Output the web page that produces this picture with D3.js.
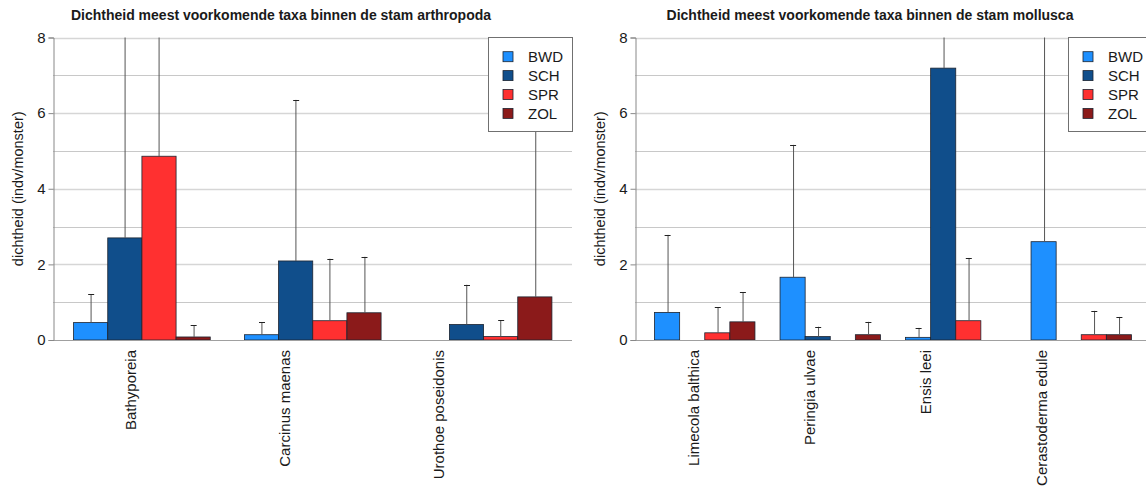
<!DOCTYPE html>
<html>
<head>
<meta charset="utf-8">
<script src="https://cdn.jsdelivr.net/npm/d3@7"></script>
<style>
  body { margin: 0; background: #fff; }
  text { font-family: "Liberation Sans", Arial, sans-serif; fill: #1a1a1a; }
</style>
</head>
<body>
<svg id="chart" width="1146" height="487"></svg>
<script>
// sampling stations, same order in every array below
const stations = ['BWD', 'SCH', 'SPR', 'ZOL'];

const arthropodaTaxa = ['Bathyporeia', 'Carcinus maenas', 'Urothoe poseidonis'];
// mean density per taxon, one value per station
const arthropodaMean = [
  [0.46, 2.70, 4.86, 0.08],
  [0.14, 2.09, 0.51, 0.72],
  [0.00, 0.41, 0.09, 1.14]
];
// standard deviation (upper whisker only)
const arthropodaSd = [
  [0.75, 7.50, 5.50, 0.31],
  [0.33, 4.26, 1.64, 1.48],
  [0.00, 1.05, 0.43, 6.10]
];

const molluscaTaxa = ['Limecola balthica', 'Peringia ulvae', 'Ensis leei', 'Cerastoderma edule'];
const molluscaMean = [
  [0.73, 0.00, 0.19, 0.48],
  [1.66, 0.09, 0.00, 0.14],
  [0.07, 7.19, 0.51, 0.00],
  [2.60, 0.00, 0.14, 0.14]
];
const molluscaSd = [
  [2.05, 0.00, 0.68, 0.79],
  [3.50, 0.26, 0.00, 0.34],
  [0.25, 3.20, 1.66, 0.00],
  [6.40, 0.00, 0.63, 0.47]
];

const yTicks = [0, 2, 4, 6, 8];
const yGrid = [1, 2, 3, 4, 5, 6, 7, 8];

const colors = d3.scaleOrdinal().domain(stations).range(['#1e90ff', '#104e8b', '#ff3030', '#8b1a1a']);

const svg = d3.select('#chart');

function drawPanel(opts) {
  const { id, title, titleX, taxa, mean, sd, axisX, gridRight, barRange, labelSpan, legendX, legendW } = opts;
  const top = 37.5, bottom = 340;

  const y = d3.scaleLinear().domain([0, 8]).range([bottom, top]);
  const x = d3.scaleBand().domain(taxa).range(barRange).paddingInner(0.2).paddingOuter(0.1);
  const xs = d3.scaleBand().domain(stations).range([0, x.bandwidth()]);
  // category labels sit on their own (narrower) spacing in the original
  const xl = d3.scaleBand().domain(taxa).range([axisX, axisX + labelSpan]);

  const g = svg.append('g');

  svg.append('clipPath').attr('id', 'clip-' + id)
    .append('rect').attr('x', axisX).attr('y', top).attr('width', gridRight - axisX).attr('height', bottom - top + 1);

  svg.append('text')
    .attr('x', titleX).attr('y', 20)
    .attr('text-anchor', 'middle')
    .style('font-size', '14px').style('font-weight', 'bold')
    .text(title);

  // gridlines
  g.selectAll('.grid')
    .data(yGrid)
    .enter()
      .append('line')
      .attr('x1', axisX).attr('x2', gridRight)
      .attr('y1', d => Math.round(y(d)) + 0.5).attr('y2', d => Math.round(y(d)) + 0.5)
      .style('stroke', d => d % 2 === 0 ? '#d6d6d6' : '#c8c8c8')
      .style('stroke-width', d => d % 2 === 0 ? 1.5 : 1);

  // plot area, clipped at the top of the y scale
  const plot = g.append('g').attr('clip-path', `url(#clip-${id})`);

  const rows = taxa.map((t, i) => stations.map((s, j) => ({ taxon: t, station: s, mean: mean[i][j], sd: sd[i][j] })));

  const $groups = plot.selectAll('.taxon')
    .data(rows)
    .enter()
      .append('g')
      .attr('transform', (d, i) => `translate(${x(taxa[i])},0)`);

  $groups.selectAll('.bar')
    .data(d => d.filter(v => v.mean > 0))
    .enter()
      .append('rect')
      .attr('x', d => xs(d.station))
      .attr('y', d => y(d.mean))
      .attr('width', xs.bandwidth())
      .attr('height', d => y(0) - y(d.mean))
      .style('fill', d => colors(d.station))
      .style('stroke', '#1c2430')
      .style('stroke-width', 0.8);

  // error bars, upper half only
  const $err = $groups.selectAll('.err')
    .data(d => d.filter(v => v.sd > 0))
    .enter()
      .append('g');

  $err.append('line')
    .attr('x1', d => Math.round(xs(d.station) + xs.bandwidth() / 2) + 0.5)
    .attr('x2', d => Math.round(xs(d.station) + xs.bandwidth() / 2) + 0.5)
    .attr('y1', d => y(d.mean))
    .attr('y2', d => y(d.mean + d.sd))
    .style('stroke', '#555')
    .style('stroke-width', 1);

  $err.append('line')
    .attr('x1', d => xs(d.station) + xs.bandwidth() / 2 - 2.5)
    .attr('x2', d => xs(d.station) + xs.bandwidth() / 2 + 3.5)
    .attr('y1', d => Math.round(y(d.mean + d.sd)) + 0.5)
    .attr('y2', d => Math.round(y(d.mean + d.sd)) + 0.5)
    .style('stroke', '#222')
    .style('stroke-width', 1);

  // baseline
  g.append('line')
    .attr('x1', axisX).attr('x2', gridRight)
    .attr('y1', y(0) + 0.5).attr('y2', y(0) + 0.5)
    .style('stroke', '#a0a0a0');

  // y axis
  const yAxis = g.append('g')
    .attr('transform', `translate(${axisX + 0.5},0)`)
    .call(d3.axisLeft(y).tickValues(yTicks).tickSize(5).tickPadding(3));
  yAxis.select('.domain').style('stroke', '#888');
  yAxis.selectAll('.tick line').style('stroke', '#888');
  yAxis.selectAll('.tick text').style('font-size', '15px').style('fill', '#1a1a1a')
    .style('font-family', '"Liberation Sans", Arial, sans-serif');

  g.append('text')
    .attr('transform', `translate(${axisX - 35.5},${(top + bottom) / 2}) rotate(-90)`)
    .attr('text-anchor', 'middle')
    .attr('dominant-baseline', 'central')
    .style('font-size', '14.5px')
    .text('dichtheid (indv/monster)');

  // category labels
  g.selectAll('.cat')
    .data(taxa)
    .enter()
      .append('text')
      .attr('transform', d => `translate(${xl(d) + xl.bandwidth() / 2},350) rotate(-90)`)
      .attr('text-anchor', 'end')
      .attr('dominant-baseline', 'central')
      .style('font-size', '15px')
      .text(d => d);

  // legend
  const lg = g.append('g').attr('transform', `translate(${legendX},37)`);
  lg.append('rect')
    .attr('x', 0.5).attr('y', 0.5)
    .attr('width', legendW).attr('height', 94)
    .style('fill', '#fff').style('stroke', '#707070');
  const $items = lg.selectAll('.item')
    .data(stations)
    .enter()
      .append('g')
      .attr('transform', (d, i) => `translate(0,${19.7 + i * 18.9})`);
  $items.append('rect')
    .attr('x', 15).attr('y', -5).attr('width', 10).attr('height', 10)
    .style('fill', d => colors(d)).style('stroke', '#1c2430').style('stroke-width', 0.8);
  $items.append('text')
    .attr('x', 40).attr('y', 0)
    .attr('dominant-baseline', 'central')
    .style('font-size', '15px')
    .text(d => d);
}

drawPanel({
  id: 'arth', title: 'Dichtheid meest voorkomende taxa binnen de stam arthropoda', titleX: 281,
  taxa: arthropodaTaxa, mean: arthropodaMean, sd: arthropodaSd,
  axisX: 53, gridRight: 572, barRange: [56.5, 569], labelSpan: 463,
  legendX: 488, legendW: 84
});

drawPanel({
  id: 'moll', title: 'Dichtheid meest voorkomende taxa binnen de stam mollusca', titleX: 870,
  taxa: molluscaTaxa, mean: molluscaMean, sd: molluscaSd,
  axisX: 635, gridRight: 1146, barRange: [642, 1144], labelSpan: 464,
  legendX: 1068, legendW: 82
});
</script>
</body>
</html>
